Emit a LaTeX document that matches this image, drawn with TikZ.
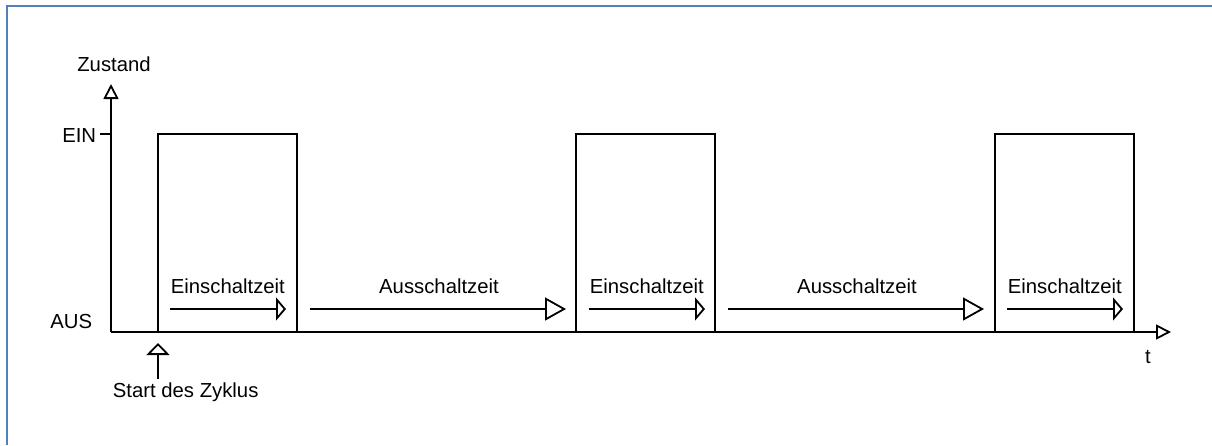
\documentclass[tikz,border=0pt]{standalone}
\usepackage{fontspec}
\setmainfont{Liberation Sans}
\usetikzlibrary{arrows.meta}
\definecolor{frameblue}{HTML}{4F81BD}
\begin{document}
\begin{tikzpicture}[x=1pt,y=-1pt,line width=1.8pt,
  lbl/.style={font=\fontsize{20.3}{24}\selectfont,inner sep=0pt},
  signal/.style={line join=miter},
  axistip/.style={-{Triangle[open,fill=white,length=15pt,width=15pt]}},
  ontip/.style={-{Triangle[open,fill=white,length=10pt,width=23pt]}},
  offtip/.style={-{Triangle[open,fill=white,length=21pt,width=23pt]}},
  starttip/.style={-{Triangle[open,fill=white,length=12pt,width=23pt]}},
  frameline/.style={frameblue,line width=2.2pt}]
\useasboundingbox (0,0) rectangle (1212,445);

% surrounding frame
\draw[frameline] (7,445) -- (7,5.6) -- (1212,5.6);

% axes
\coordinate (O) at (111,332);
\coordinate (ytop) at (111,84);
\coordinate (xend) at (1171,332);
\coordinate (einL) at (100,134);
\coordinate (einR) at (111,134);
\draw[axistip] (O) -- (ytop);
\draw[axistip] (O) -- (xend);
\draw (einL) -- (einR);

\node[lbl,anchor=base] (zustand) at (114,71) {Zustand};
\node[lbl,anchor=base east] (ein) at (97,142) {EIN};
\node[lbl,anchor=base east] (aus) at (93,328) {AUS};
\node[lbl,anchor=base] (t) at (1148,363) {t};

% pulses
\foreach \a/\b/\n in {158/297/1,576/715/2,995/1134/3}{
  \coordinate (p\n a) at (\a,332);
  \coordinate (p\n b) at (\a,134);
  \coordinate (p\n c) at (\b,134);
  \coordinate (p\n d) at (\b,332);
  \draw[signal] (p\n a) -- (p\n b) -- (p\n c) -- (p\n d);
}

% start of cycle
\node[lbl,anchor=base west] (start) at (112,397) {Start des Zyklus};
\coordinate (startlow) at (158,379);
\coordinate (starttop) at (158,343);
\draw[starttip] (startlow) -- (starttop);

% on-time arrows
\foreach \s/\e/\n in {170/286/1,589/705/2,1007/1123/3}{
  \coordinate (on\n s) at (\s,309);
  \coordinate (on\n e) at (\e,309);
  \draw[ontip] (on\n s) -- (on\n e);
  \node[lbl,anchor=base west] (onl\n) at (\s,293) {Einschaltzeit};
}

% off-time arrows
\foreach \s/\e/\n in {310/566/1,728/984/2}{
  \coordinate (off\n s) at (\s,309);
  \coordinate (off\n e) at (\e,309);
  \draw[offtip] (off\n s) -- (off\n e);
  \node[lbl,anchor=base] (offl\n) at ({(\s+\e)/2+1},293) {Ausschaltzeit};
}
\end{tikzpicture}
\end{document}
